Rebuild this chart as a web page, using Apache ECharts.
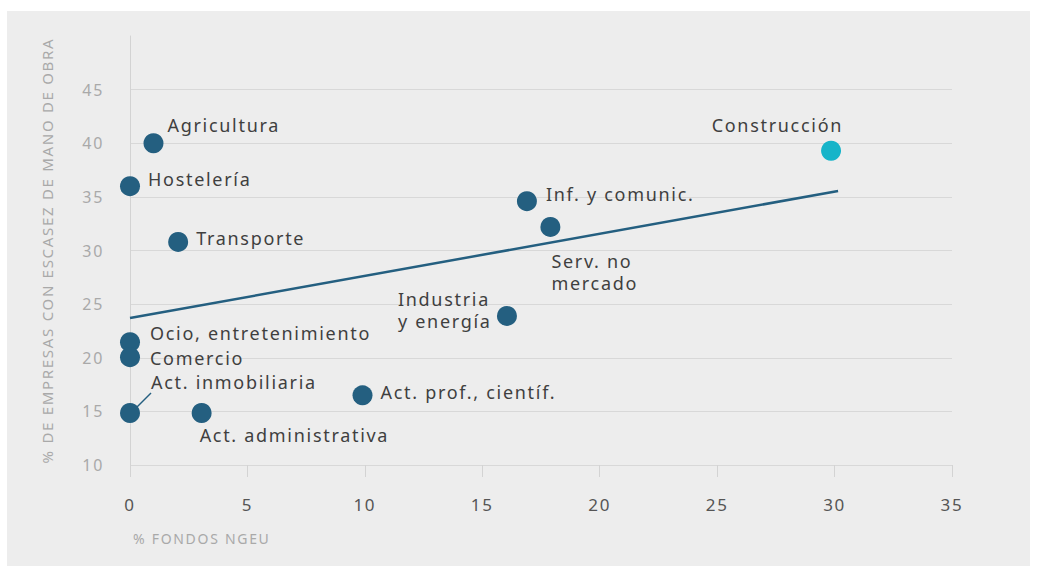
<!DOCTYPE html>
<html>
<head>
<meta charset="utf-8">
<script src="https://cdn.jsdelivr.net/npm/echarts@6/dist/echarts.min.js"></script>
<style>
  html, body { margin: 0; padding: 0; background: #ffffff; }
  #panel { position: absolute; left: 7px; top: 11px; width: 1023px; height: 555px; background: #ededed; }
  #chart { position: absolute; left: 0; top: 0; width: 1037px; height: 572px; }
  /* tracked lettering for all chart text */
  #chart svg text { letter-spacing: 1.7px; }
</style>
</head>
<body>
<div id="panel"></div>
<div id="chart"></div>
<script>
// Sectors: share of NGEU funds (x) vs. share of firms reporting labour shortage (y)
const sectors = [
  'Agricultura', 'Hostelería', 'Transporte', 'Inf. y comunic.', 'Serv. no\nmercado',
  'Construcción', 'Industria\ny energía', 'Ocio, entretenimiento', 'Comercio',
  'Act. inmobiliaria', 'Act. administrativa', 'Act. prof., científ.'
];
const fundsShare = [1.0, 0.0, 2.05, 16.9, 17.9, 29.85, 16.05, 0.0, 0.0, 0.0, 3.05, 9.9];
const shortageShare = [40.0, 36.0, 30.8, 34.6, 32.2, 39.3, 23.9, 21.45, 20.05, 14.85, 14.85, 16.5];

// Linear trend line endpoints
const trendX = [0, 30.15];
const trendY = [23.7, 35.55];

const xTicks = { min: 0, max: 35, interval: 5 };
const yTicks = { min: 10, max: 50, interval: 5 };

const DARK = '#245f80';
const CYAN = '#16b4c9';
const FONT = '"Noto Sans", "Open Sans", sans-serif';

// Label placement per sector
const labelStyle = {
  'Agricultura':            { position: 'right', offset: [-4, -18] },
  'Hostelería':             { position: 'right', offset: [0, -7] },
  'Transporte':             { position: 'right', offset: [0, -4] },
  'Inf. y comunic.':        { position: 'right', offset: [1, -7] },
  'Serv. no\nmercado':      { position: 'bottom', align: 'left', offset: [1, 5], lineHeight: 22 },
  'Construcción':           { position: 'top', align: 'right', offset: [12, 1] },
  'Industria\ny energía':   { position: 'left', align: 'left', offset: [-91, -6], lineHeight: 22 },
  'Ocio, entretenimiento':  { position: 'right', offset: [2, -9] },
  'Comercio':               { position: 'right', offset: [2, 1] },
  'Act. inmobiliaria':      { position: 'right', offset: [3, -31] },
  'Act. administrativa':    { position: 'bottom', align: 'left', offset: [-2, -5] },
  'Act. prof., científ.':   { position: 'right', offset: [0, -3] }
};

const points = sectors.map((name, i) => {
  const s = labelStyle[name];
  return {
    name: name,
    value: [fundsShare[i], shortageShare[i]],
    itemStyle: { color: name === 'Construcción' ? CYAN : DARK, opacity: 1 },
    label: Object.assign({ show: true }, s)
  };
});

const chart = echarts.init(document.getElementById('chart'), null, { renderer: 'svg' });

chart.setOption({
  animation: false,
  backgroundColor: 'transparent',
  textStyle: { fontFamily: FONT },
  title: {
    text: '% FONDOS NGEU',
    left: 133, top: 531, padding: 0,
    textStyle: { fontFamily: FONT, fontSize: 14, fontWeight: 'normal', color: '#a9a9a9' }
  },
  grid: { left: 130, right: 85, top: 36, bottom: 107 },
  xAxis: {
    type: 'value',
    min: xTicks.min, max: xTicks.max, interval: xTicks.interval,
    axisLine: { show: false },
    axisTick: { show: true, length: 12, lineStyle: { color: '#d3d3d3' } },
    axisLabel: { color: '#555555', fontSize: 17, margin: 31, fontFamily: FONT },
    splitLine: { show: false }
  },
  yAxis: {
    type: 'value',
    min: yTicks.min, max: yTicks.max, interval: yTicks.interval,
    name: '% DE EMPRESAS CON ESCASEZ DE MANO DE OBRA',
    nameLocation: 'middle',
    nameGap: 76,
    nameTextStyle: { color: '#a9a9a9', fontSize: 15, fontFamily: FONT },
    axisLine: { show: true, lineStyle: { color: '#d3d3d3', width: 1 } },
    axisTick: { show: false },
    axisLabel: {
      color: '#a9a9a9', fontSize: 16, margin: 26, fontFamily: FONT,
      formatter: v => (v === yTicks.max ? '' : String(v))
    },
    splitLine: { show: true, showMaxLine: false, lineStyle: { color: '#d8d8d8', width: 1 } }
  },
  series: [
    {
      type: 'line',
      data: trendX.map((x, i) => [x, trendY[i]]),
      symbol: 'none',
      lineStyle: { color: DARK, width: 2.5 },
      z: 2,
      silent: true
    },
    {
      type: 'scatter',
      symbolSize: 20,
      data: points,
      z: 3,
      label: {
        show: true,
        formatter: '{b}',
        color: '#3f3f3f',
        fontSize: 18,
        fontFamily: FONT,
        lineHeight: 18,
        distance: 8
      },
      labelLine: { show: false },
      emphasis: { disabled: true }
    }
  ]
});

// Leader from Act. inmobiliaria point to its label
(function () {
  const i = sectors.indexOf('Act. inmobiliaria');
  const p = chart.convertToPixel({ gridIndex: 0 }, [fundsShare[i], shortageShare[i]]);
  chart.setOption({
    graphic: [{
      type: 'line',
      shape: { x1: p[0] + 7, y1: p[1] - 6, x2: p[0] + 21, y2: p[1] - 20 },
      style: { stroke: DARK, lineWidth: 1.5 },
      z: 1
    }]
  });
})();
</script>
</body>
</html>
